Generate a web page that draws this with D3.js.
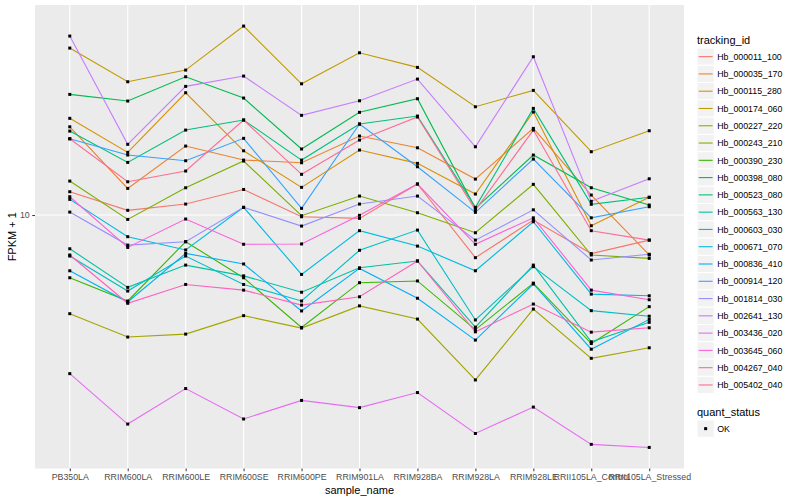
<!DOCTYPE html>
<html>
<head>
<meta charset="utf-8">
<script src="https://cdnjs.cloudflare.com/ajax/libs/d3/7.8.5/d3.min.js"></script>
<style>
  body { margin: 0; background: #fff; }
  text { font-family: "Liberation Sans", Arial, Helvetica, sans-serif; }
</style>
</head>
<body>
<div id="main"></div>
<script>
// samples on the x axis
const samples = ["PB350LA", "RRIM600LA", "RRIM600LE", "RRIM600SE", "RRIM600PE", "RRIM901LA",
  "RRIM928BA", "RRIM928LA", "RRIM928LE", "RRII105LA_Control", "RRII105LA_Stressed"]

const trackingIds = ["Hb_000011_100", "Hb_000035_170", "Hb_000115_280", "Hb_000174_060", "Hb_000227_220",
  "Hb_000243_210", "Hb_000390_230", "Hb_000398_080", "Hb_000523_080", "Hb_000563_130",
  "Hb_000603_030", "Hb_000671_070", "Hb_000836_410", "Hb_000914_120", "Hb_001814_030",
  "Hb_002641_130", "Hb_003436_020", "Hb_003645_060", "Hb_004267_040", "Hb_005402_040"]

// FPKM + 1, one value per sample
const hb000011 = [11.96, 10.37, 10.88, 12.17, 9.87, 9.75, 12.69, 7.21, 9.62, 7.44, 8.25]
const hb000035 = [19.69, 12.27, 16.98, 15.25, 14.94, 18.34, 16.76, 13.18, 19.45, 11.66, 7.36]
const hb000115 = [21.01, 16.18, 25.57, 16.38, 12.37, 16.47, 14.87, 11.75, 22.05, 9.21, 11.46]
const hb000174 = [36.03, 27.82, 30.43, 42.66, 27.39, 34.75, 31.07, 22.96, 26.04, 16.26, 19.10]
const hb000227 = [4.69, 3.92, 4.01, 4.62, 4.20, 4.98, 4.50, 2.82, 4.86, 3.33, 3.61]
const hb000243 = [12.98, 9.67, 12.33, 15.14, 9.95, 11.57, 10.18, 8.73, 12.66, 7.36, 7.17]
const hb000390 = [6.18, 5.17, 8.15, 6.18, 4.22, 5.95, 6.03, 4.15, 5.93, 3.73, 4.95]
const hb000398 = [25.25, 23.99, 28.91, 24.55, 16.60, 22.00, 24.42, 10.53, 15.85, 12.33, 10.80]
const hb000523 = [19.05, 14.98, 19.20, 20.74, 15.25, 20.11, 21.38, 10.61, 22.68, 10.86, 11.46]
const hb000563 = [7.72, 5.74, 6.81, 6.27, 5.53, 6.67, 7.03, 4.23, 6.81, 3.78, 4.39]
const hb000603 = [7.30, 5.58, 7.30, 5.87, 5.17, 7.63, 8.91, 4.47, 6.73, 4.80, 4.60]
const hb000671 = [11.28, 8.47, 7.65, 10.61, 6.34, 8.87, 7.88, 6.52, 9.50, 5.45, 5.38]
const hb000836 = [6.52, 5.13, 7.45, 6.87, 4.79, 6.64, 5.28, 3.83, 5.89, 3.57, 4.49]
const hb000914 = [17.96, 15.85, 15.17, 18.02, 10.53, 20.11, 14.49, 10.21, 15.37, 9.79, 10.66]
const hb001814 = [10.23, 7.94, 8.15, 10.61, 9.19, 10.88, 11.57, 8.25, 10.41, 7.08, 7.40]
const hb002641 = [39.51, 17.21, 26.85, 29.06, 21.50, 24.04, 28.40, 16.89, 33.71, 11.11, 13.21]
const hb003436 = [2.96, 2.01, 2.64, 2.09, 2.41, 2.28, 2.56, 1.87, 2.29, 1.72, 1.68]
const hb003645 = [11.51, 7.80, 9.70, 7.99, 8.01, 9.98, 12.69, 7.99, 9.79, 5.62, 5.22]
const hb004267 = [7.36, 5.08, 5.87, 5.62, 5.01, 5.34, 7.03, 4.08, 5.05, 4.07, 4.21]
const hb005402 = [17.96, 12.91, 14.02, 20.74, 13.67, 17.78, 21.22, 10.39, 19.20, 8.87, 8.25]

const seriesValues = [hb000011, hb000035, hb000115, hb000174, hb000227, hb000243, hb000390, hb000398,
  hb000523, hb000563, hb000603, hb000671, hb000836, hb000914, hb001814, hb002641,
  hb003436, hb003645, hb004267, hb005402]

const yTicks = [10]

// ggplot default hue palette for 20 levels
const palette = ["#F8766D", "#EA8331", "#D89000", "#C09B00", "#A3A500", "#7CAE00", "#39B600", "#00BB4E",
  "#00BF7D", "#00C1A3", "#00BFC4", "#00BAE0", "#00B0F6", "#35A2FF", "#9590FF", "#C77CFF",
  "#E76BF3", "#FA62DB", "#FF62BC", "#FF6C91"]

let panel = {left: 35, top: 5, right: 684, bottom: 468.5}

let svg = d3.select("#main").append("svg")
    .attr("width", 800)
    .attr("height", 500)

svg.append("rect")
    .attr("x", panel.left).attr("y", panel.top)
    .attr("width", panel.right - panel.left)
    .attr("height", panel.bottom - panel.top)
    .attr("fill", "#EBEBEB")

let scX = d3.scalePoint()
    .domain(samples)
    .range([panel.left, panel.right])
    .padding(0.6)

let all = seriesValues.flat()
let lo = Math.log10(d3.min(all)), hi = Math.log10(d3.max(all))
let pad = (hi - lo) * 0.05
let scY = d3.scaleLog()
    .domain([Math.pow(10, lo - pad), Math.pow(10, hi + pad)])
    .range([panel.bottom, panel.top])

// grid
let grid = svg.append("g").attr("stroke", "#fff").attr("stroke-width", 1.1)
grid.selectAll(".gx").data(samples).enter().append("line")
    .attr("x1", d => scX(d)).attr("x2", d => scX(d))
    .attr("y1", panel.top).attr("y2", panel.bottom)
grid.selectAll(".gy").data(yTicks).enter().append("line")
    .attr("x1", panel.left).attr("x2", panel.right)
    .attr("y1", d => scY(d)).attr("y2", d => scY(d))

// lines
let makeLine = d3.line()
    .x((d, i) => scX(samples[i]))
    .y(d => scY(d))

svg.append("g").selectAll("path").data(seriesValues).enter()
    .append("path")
    .attr("d", d => makeLine(d))
    .attr("fill", "none")
    .attr("stroke", (d, i) => palette[i])
    .attr("stroke-width", 1.1)

// points
let pts = svg.append("g")
seriesValues.forEach(vals => {
    pts.selectAll(null).data(vals).enter()
        .append("rect")
        .attr("x", (d, i) => scX(samples[i]) - 1.5)
        .attr("y", d => scY(d) - 1.5)
        .attr("width", 3).attr("height", 3)
        .attr("fill", "#000")
})

// axes
let axX = svg.append("g")
    .attr("transform", `translate(0, ${panel.bottom})`)
    .call(d3.axisBottom(scX).tickSize(2.75).tickPadding(2.5))
axX.select(".domain").remove()
axX.selectAll("line").attr("stroke", "#333")
axX.selectAll("text").attr("fill", "#4D4D4D").attr("font-size", 8.8)
    .style("font-family", "'Liberation Sans', Arial, sans-serif")

let axY = svg.append("g")
    .attr("transform", `translate(${panel.left}, 0)`)
    .call(d3.axisLeft(scY).tickValues(yTicks).tickFormat(d3.format("d")).tickSize(2.75).tickPadding(2.5))
axY.select(".domain").remove()
axY.selectAll("line").attr("stroke", "#333")
axY.selectAll("text").attr("fill", "#4D4D4D").attr("font-size", 8.8)
    .style("font-family", "'Liberation Sans', Arial, sans-serif")

svg.append("text")
    .attr("x", (panel.left + panel.right) / 2)
    .attr("y", 494)
    .attr("text-anchor", "middle")
    .attr("font-size", 11)
    .text("sample_name")

svg.append("text")
    .attr("transform", `translate(16, ${(panel.top + panel.bottom) / 2}) rotate(-90)`)
    .attr("text-anchor", "middle")
    .attr("font-size", 11)
    .text("FPKM + 1")

// legend: tracking_id
let lg = svg.append("g").attr("transform", "translate(697, 0)")
lg.append("text").attr("x", 0).attr("y", 44).attr("font-size", 11).text("tracking_id")
let keySize = 17.28, keyTop = 48
let items = lg.selectAll(".item").data(trackingIds).enter().append("g")
    .attr("transform", (d, i) => `translate(0, ${keyTop + i * keySize})`)
items.append("rect")
    .attr("width", keySize).attr("height", keySize)
    .attr("fill", "#F2F2F2").attr("stroke", "#fff").attr("stroke-width", 1)
items.append("line")
    .attr("x1", 1.7).attr("x2", keySize - 1.7)
    .attr("y1", keySize / 2).attr("y2", keySize / 2)
    .attr("stroke", (d, i) => palette[i]).attr("stroke-width", 1.1)
items.append("text")
    .attr("x", keySize + 3).attr("y", keySize / 2 + 3.2)
    .attr("font-size", 8.8)
    .text(d => d)

// legend: quant_status
let lq = svg.append("g").attr("transform", "translate(697, 0)")
lq.append("text").attr("x", 0).attr("y", 416).attr("font-size", 11).text("quant_status")
lq.append("rect").attr("y", 420).attr("width", keySize).attr("height", keySize)
    .attr("fill", "#F2F2F2").attr("stroke", "#fff")
lq.append("rect").attr("x", keySize / 2 - 1.5).attr("y", 420 + keySize / 2 - 1.5)
    .attr("width", 3).attr("height", 3).attr("fill", "#000")
lq.append("text").attr("x", keySize + 3).attr("y", 420 + keySize / 2 + 3.2)
    .attr("font-size", 8.8).text("OK")
</script>
</body>
</html>
